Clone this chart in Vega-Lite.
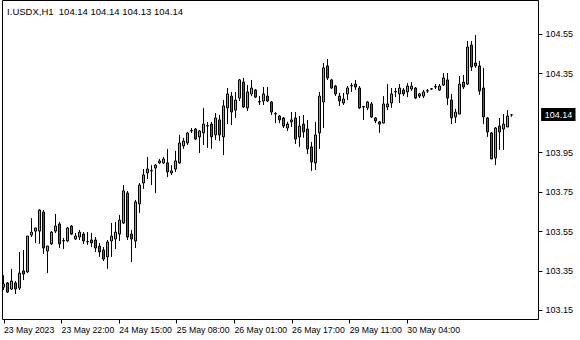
{
 "$schema": "https://vega.github.io/schema/vega-lite/v6.json",
 "width": 536, "height": 319,
 "autosize": {"type": "none"},
 "padding": {"left": 2, "top": 0, "right": 42, "bottom": 21},
 "background": "white",
 "config": {"view": {"stroke": "black", "strokeWidth": 1}, "font": "Liberation Sans"},
 "data": {"values": [
{"i":1,"open":103.266,"high":103.327,"low":103.251,"close":103.282},
{"i":2,"open":103.287,"high":103.292,"low":103.236,"close":103.241},
{"i":3,"open":103.256,"high":103.358,"low":103.251,"close":103.297},
{"i":4,"open":103.287,"high":103.297,"low":103.231,"close":103.256},
{"i":5,"open":103.261,"high":103.444,"low":103.251,"close":103.337},
{"i":6,"open":103.348,"high":103.454,"low":103.302,"close":103.332},
{"i":7,"open":103.343,"high":103.525,"low":103.337,"close":103.525},
{"i":8,"open":103.530,"high":103.616,"low":103.520,"close":103.545},
{"i":9,"open":103.550,"high":103.566,"low":103.490,"close":103.566},
{"i":10,"open":103.550,"high":103.662,"low":103.485,"close":103.657},
{"i":11,"open":103.647,"high":103.657,"low":103.434,"close":103.464},
{"i":12,"open":103.449,"high":103.474,"low":103.337,"close":103.474},
{"i":13,"open":103.485,"high":103.550,"low":103.480,"close":103.545},
{"i":14,"open":103.550,"high":103.637,"low":103.540,"close":103.576},
{"i":15,"open":103.586,"high":103.596,"low":103.464,"close":103.485},
{"i":16,"open":103.500,"high":103.515,"low":103.459,"close":103.502},
{"i":17,"open":103.500,"high":103.571,"low":103.495,"close":103.566},
{"i":18,"open":103.576,"high":103.581,"low":103.530,"close":103.535},
{"i":19,"open":103.510,"high":103.540,"low":103.505,"close":103.525},
{"i":20,"open":103.520,"high":103.556,"low":103.505,"close":103.545},
{"i":21,"open":103.535,"high":103.545,"low":103.485,"close":103.500},
{"i":22,"open":103.495,"high":103.545,"low":103.480,"close":103.497},
{"i":23,"open":103.505,"high":103.540,"low":103.469,"close":103.490},
{"i":24,"open":103.505,"high":103.520,"low":103.444,"close":103.464},
{"i":25,"open":103.474,"high":103.490,"low":103.419,"close":103.444},
{"i":26,"open":103.454,"high":103.469,"low":103.398,"close":103.408},
{"i":27,"open":103.419,"high":103.505,"low":103.358,"close":103.495},
{"i":28,"open":103.500,"high":103.591,"low":103.419,"close":103.525},
{"i":29,"open":103.510,"high":103.596,"low":103.459,"close":103.545},
{"i":30,"open":103.535,"high":103.632,"low":103.500,"close":103.606},
{"i":31,"open":103.591,"high":103.784,"low":103.586,"close":103.754},
{"i":32,"open":103.743,"high":103.754,"low":103.505,"close":103.520},
{"i":33,"open":103.535,"high":103.556,"low":103.393,"close":103.510},
{"i":34,"open":103.500,"high":103.708,"low":103.464,"close":103.698},
{"i":35,"open":103.688,"high":103.794,"low":103.642,"close":103.784},
{"i":36,"open":103.794,"high":103.865,"low":103.764,"close":103.835},
{"i":37,"open":103.845,"high":103.926,"low":103.814,"close":103.865},
{"i":38,"open":103.855,"high":103.885,"low":103.784,"close":103.857},
{"i":39,"open":103.870,"high":103.890,"low":103.743,"close":103.885},
{"i":40,"open":103.896,"high":103.916,"low":103.891,"close":103.906},
{"i":41,"open":103.896,"high":103.926,"low":103.891,"close":103.916},
{"i":42,"open":103.896,"high":103.967,"low":103.824,"close":103.850},
{"i":43,"open":103.845,"high":103.885,"low":103.835,"close":103.855},
{"i":44,"open":103.865,"high":103.957,"low":103.850,"close":103.906},
{"i":45,"open":103.896,"high":104.038,"low":103.891,"close":103.997},
{"i":46,"open":103.982,"high":104.023,"low":103.967,"close":104.007},
{"i":47,"open":103.997,"high":104.053,"low":103.987,"close":104.048},
{"i":48,"open":104.058,"high":104.073,"low":104.048,"close":104.060},
{"i":49,"open":104.068,"high":104.073,"low":104.012,"close":104.017},
{"i":50,"open":104.028,"high":104.063,"low":103.946,"close":104.058},
{"i":51,"open":104.048,"high":104.175,"low":103.987,"close":104.093},
{"i":52,"open":104.083,"high":104.104,"low":103.972,"close":104.085},
{"i":53,"open":104.093,"high":104.104,"low":103.967,"close":104.028},
{"i":54,"open":104.038,"high":104.149,"low":104.012,"close":104.124},
{"i":55,"open":104.114,"high":104.139,"low":104.007,"close":104.038},
{"i":56,"open":104.028,"high":104.215,"low":103.936,"close":104.185},
{"i":57,"open":104.175,"high":104.276,"low":104.093,"close":104.246},
{"i":58,"open":104.235,"high":104.256,"low":104.088,"close":104.154},
{"i":59,"open":104.164,"high":104.256,"low":104.124,"close":104.215},
{"i":60,"open":104.225,"high":104.322,"low":104.210,"close":104.317},
{"i":61,"open":104.306,"high":104.327,"low":104.175,"close":104.180},
{"i":62,"open":104.175,"high":104.291,"low":104.159,"close":104.256},
{"i":63,"open":104.246,"high":104.317,"low":104.235,"close":104.276},
{"i":64,"open":104.266,"high":104.271,"low":104.225,"close":104.230},
{"i":65,"open":104.205,"high":104.235,"low":104.190,"close":104.207},
{"i":66,"open":104.210,"high":104.281,"low":104.190,"close":104.246},
{"i":67,"open":104.235,"high":104.281,"low":104.205,"close":104.210},
{"i":68,"open":104.205,"high":104.210,"low":104.139,"close":104.154},
{"i":69,"open":104.144,"high":104.154,"low":104.098,"close":104.146},
{"i":70,"open":104.134,"high":104.139,"low":104.098,"close":104.114},
{"i":71,"open":104.124,"high":104.129,"low":104.073,"close":104.083},
{"i":72,"open":104.073,"high":104.104,"low":104.058,"close":104.093},
{"i":73,"open":104.104,"high":104.154,"low":104.078,"close":104.114},
{"i":74,"open":104.124,"high":104.154,"low":103.992,"close":104.017},
{"i":75,"open":104.028,"high":104.134,"low":103.977,"close":104.083},
{"i":76,"open":104.093,"high":104.139,"low":104.023,"close":104.053},
{"i":77,"open":104.068,"high":104.114,"low":103.941,"close":103.967},
{"i":78,"open":103.977,"high":104.002,"low":103.855,"close":103.901},
{"i":79,"open":103.896,"high":104.104,"low":103.860,"close":104.038},
{"i":80,"open":104.048,"high":104.256,"low":103.967,"close":104.235},
{"i":81,"open":104.205,"high":104.403,"low":104.073,"close":104.378},
{"i":82,"open":104.388,"high":104.423,"low":104.317,"close":104.327},
{"i":83,"open":104.317,"high":104.322,"low":104.271,"close":104.276},
{"i":84,"open":104.286,"high":104.291,"low":104.235,"close":104.246},
{"i":85,"open":104.235,"high":104.251,"low":104.185,"close":104.210},
{"i":86,"open":104.200,"high":104.251,"low":104.190,"close":104.220},
{"i":87,"open":104.246,"high":104.286,"low":104.215,"close":104.276},
{"i":88,"open":104.286,"high":104.301,"low":104.256,"close":104.288},
{"i":89,"open":104.296,"high":104.317,"low":104.266,"close":104.281},
{"i":90,"open":104.276,"high":104.286,"low":104.170,"close":104.175},
{"i":91,"open":104.180,"high":104.185,"low":104.114,"close":104.182},
{"i":92,"open":104.175,"high":104.210,"low":104.164,"close":104.205},
{"i":93,"open":104.195,"high":104.205,"low":104.124,"close":104.129},
{"i":94,"open":104.124,"high":104.129,"low":104.098,"close":104.109},
{"i":95,"open":104.104,"high":104.109,"low":104.048,"close":104.093},
{"i":96,"open":104.098,"high":104.235,"low":104.098,"close":104.195},
{"i":97,"open":104.180,"high":104.296,"low":104.164,"close":104.195},
{"i":98,"open":104.200,"high":104.276,"low":104.175,"close":104.246},
{"i":99,"open":104.256,"high":104.276,"low":104.230,"close":104.258},
{"i":100,"open":104.246,"high":104.296,"low":104.200,"close":104.276},
{"i":101,"open":104.266,"high":104.276,"low":104.235,"close":104.246},
{"i":102,"open":104.256,"high":104.301,"low":104.230,"close":104.286},
{"i":103,"open":104.271,"high":104.306,"low":104.261,"close":104.286},
{"i":104,"open":104.276,"high":104.281,"low":104.220,"close":104.225},
{"i":105,"open":104.235,"high":104.251,"low":104.225,"close":104.246},
{"i":106,"open":104.235,"high":104.266,"low":104.225,"close":104.256},
{"i":107,"open":104.261,"high":104.271,"low":104.251,"close":104.262},
{"i":108,"open":104.271,"high":104.276,"low":104.266,"close":104.272},
{"i":109,"open":104.281,"high":104.296,"low":104.271,"close":104.283},
{"i":110,"open":104.266,"high":104.296,"low":104.261,"close":104.286},
{"i":111,"open":104.291,"high":104.352,"low":104.286,"close":104.327},
{"i":112,"open":104.317,"high":104.352,"low":104.190,"close":104.225},
{"i":113,"open":104.215,"high":104.246,"low":104.093,"close":104.124},
{"i":114,"open":104.129,"high":104.170,"low":104.098,"close":104.154},
{"i":115,"open":104.144,"high":104.337,"low":104.144,"close":104.296},
{"i":116,"open":104.306,"high":104.342,"low":104.271,"close":104.281},
{"i":117,"open":104.296,"high":104.514,"low":104.291,"close":104.484},
{"i":118,"open":104.494,"high":104.514,"low":104.362,"close":104.383},
{"i":119,"open":104.403,"high":104.545,"low":104.378,"close":104.388},
{"i":120,"open":104.388,"high":104.413,"low":104.241,"close":104.261},
{"i":121,"open":104.276,"high":104.378,"low":104.093,"close":104.129},
{"i":122,"open":104.124,"high":104.129,"low":104.028,"close":104.053},
{"i":123,"open":104.048,"high":104.053,"low":103.916,"close":103.916},
{"i":124,"open":103.921,"high":104.078,"low":103.885,"close":104.073},
{"i":125,"open":104.083,"high":104.124,"low":103.962,"close":104.053},
{"i":126,"open":104.068,"high":104.144,"low":103.962,"close":104.093},
{"i":127,"open":104.078,"high":104.164,"low":104.078,"close":104.134},
{"i":128,"open":104.14,"high":104.14,"low":104.13,"close":104.14}
 ]},
 "layer": [
  {
   "mark": {"type": "rule", "color": "black", "strokeWidth": 1},
   "encoding": {
    "x": {"field": "i", "type": "quantitative",
      "scale": {"domain": [0.625, 134.625], "nice": false, "zero": false, "padding": 0},
      "axis": {"orient": "bottom", "title": null, "grid": false, "domain": false,
        "values": [1, 15.405, 29.81, 44.215, 58.62, 73.025, 87.43, 101.835],
        "labelExpr": "['23 May 2023','23 May 22:00','24 May 15:00','25 May 08:00','26 May 01:00','26 May 17:00','29 May 11:00','30 May 04:00'][round((datum.value-1)/14.405)]",
        "labelAlign": "left", "labelBaseline": "top", "labelPadding": 2, "labelFlush": false, "labelOverlap": false,
        "tickSize": 4, "tickColor": "black", "labelColor": "black", "labelFont": "Liberation Sans", "labelFontSize": 8.7}},
    "y": {"field": "low", "type": "quantitative",
      "scale": {"domain": [103.104, 104.7225], "nice": false, "zero": false, "padding": 0},
      "axis": {"orient": "right", "title": null, "grid": false, "domain": false,
        "values": [103.15, 103.35, 103.55, 103.75, 103.95, 104.35, 104.55],
        "format": ".2f", "tickSize": 4, "tickColor": "black", "labelColor": "black",
        "labelPadding": 3, "labelFont": "Liberation Sans", "labelFontSize": 9, "labelOverlap": false}},
    "y2": {"field": "high"}
   }
  },
  {
   "mark": {"type": "bar", "width": 2, "stroke": "black", "strokeWidth": 1},
   "encoding": {
    "x": {"field": "i", "type": "quantitative"},
    "y": {"field": "open", "type": "quantitative"},
    "y2": {"field": "close"},
    "fill": {"condition": {"test": "datum.close >= datum.open", "value": "#4ad24a"}, "value": "#e02424"}
   }
  },
  {
   "transform": [{"filter": "datum.i == 128"}],
   "mark": {"type": "rect", "color": "black", "clip": false},
   "encoding": {
    "x": {"datum": 135.4}, "x2": {"datum": 144.0},
    "y": {"datum": 104.175}, "y2": {"datum": 104.108}
   }
  },
  {
   "transform": [{"filter": "datum.i == 128"}],
   "mark": {"type": "text", "color": "white", "align": "left", "baseline": "middle", "font": "Liberation Sans", "fontSize": 9, "clip": false},
   "encoding": {
    "x": {"datum": 136.3},
    "y": {"field": "close", "type": "quantitative"},
    "text": {"field": "close", "type": "quantitative", "format": ".2f"}
   }
  },
  {
   "data": {"values": [{"label": "I.USDX,H1\u00a0 104.14 104.14 104.13 104.14"}]},
   "mark": {"type": "text", "color": "black", "align": "left", "baseline": "middle", "font": "Liberation Sans", "fontSize": 9.5},
   "encoding": {
    "x": {"datum": 1.9},
    "y": {"datum": 104.664},
    "text": {"field": "label"}
   }
  }
 ]
}
